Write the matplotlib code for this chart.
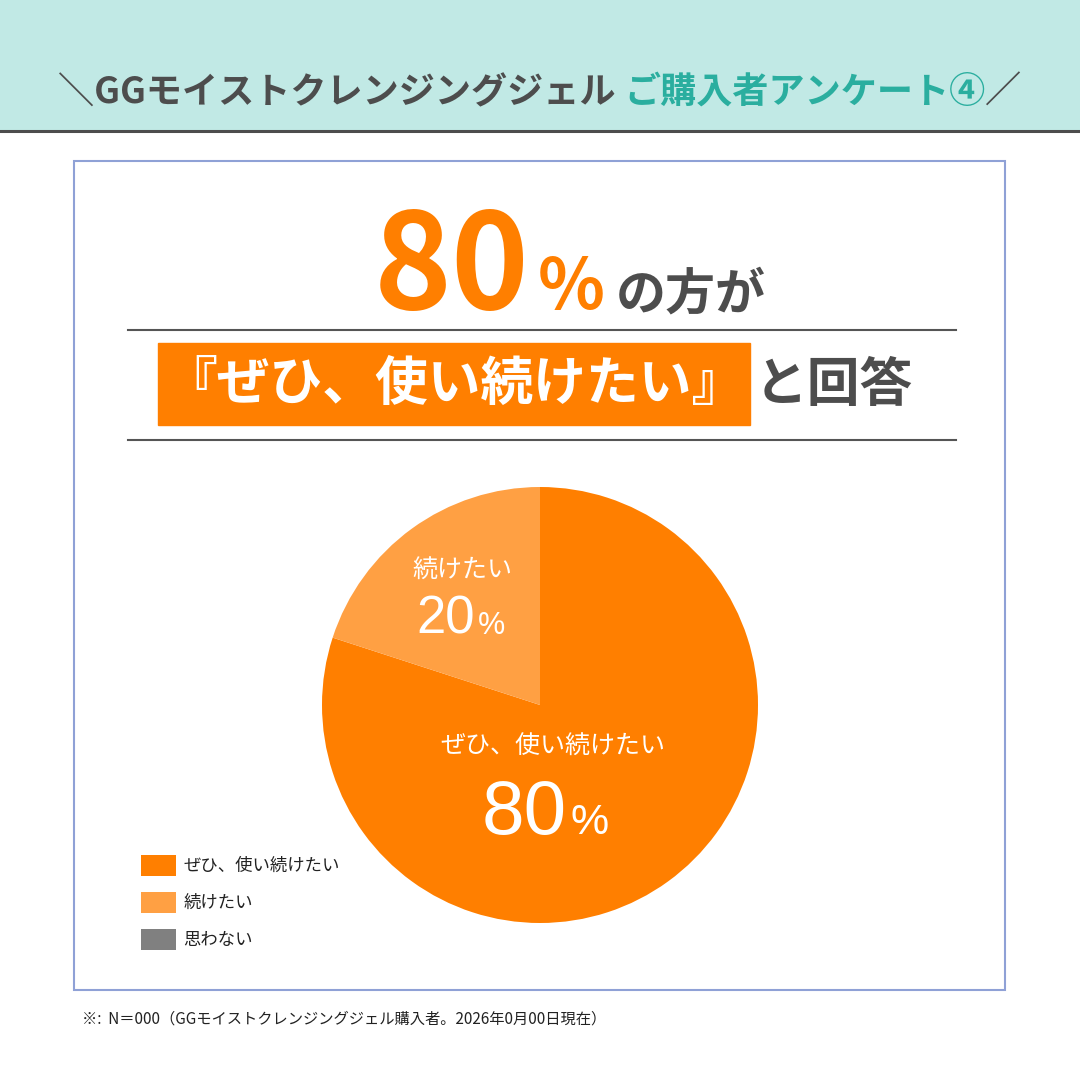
import matplotlib
matplotlib.use("Agg")
import matplotlib.pyplot as plt
from matplotlib.patches import Rectangle

plt.rcParams["font.family"] = ["Noto Sans CJK JP", "DejaVu Sans"]

# survey data
labels = ["ぜひ、使い続けたい", "続けたい", "思わない"]
shares = [80, 20, 0]
colors = ["#FF7F00", "#FFA043", "#808080"]

header_left = "＼GGモイストクレンジングジェル "
header_right = "ご購入者アンケート④"
headline_pct = "80"
answer = "『ぜひ、使い続けたい』"
note = "※:  N＝000（GGモイストクレンジングジェル購入者。2026年0月00日現在）"

DARK = "#4D4D4D"
TEAL = "#2AAE9F"
NUM_FONT = ["Liberation Sans", "DejaVu Sans"]

fig = plt.figure(figsize=(10.8, 10.8), dpi=100)
bg = fig.add_axes([0, 0, 1, 1])
bg.set_xlim(0, 1080)
bg.set_ylim(1080, 0)
bg.axis("off")

renderer = fig.canvas.get_renderer()


def text_row(ax, pieces, x, y, ha="center", family=None):
    """Draw text pieces side by side on one baseline, centred on x."""
    arts = []
    for s, size, color, weight in pieces:
        t = ax.text(0, y, s, fontsize=size, color=color, fontweight=weight,
                    va="baseline", ha="left")
        if family:
            t.set_family(family)
        arts.append(t)
    widths = [t.get_window_extent(renderer).width for t in arts]
    start = x - sum(widths) / 2 if ha == "center" else x
    for t, w in zip(arts, widths):
        t.set_x(start)
        start += w
    return arts


# header band
bg.add_patch(Rectangle((0, 0), 1080, 130, color="#C1E9E5", zorder=0))
bg.plot([0, 1080], [131, 131], color=DARK, lw=2.2)
text_row(bg, [(header_left, 26, DARK, "bold"),
              (header_right, 26, TEAL, "bold"),
              ("／", 26, DARK, "bold")], 540, 103)

# frame
bg.add_patch(Rectangle((74, 161), 931, 829, fill=False, edgecolor="#8FA1D6", lw=1.5))

# headline
text_row(bg, [(headline_pct, 95, "#FF7F00", "bold"),
              (" ", 24, "#FF7F00", "bold"),
              ("%", 50, "#FF7F00", "bold"),
              ("  ", 18, DARK, "bold"),
              ("の方が", 36, DARK, "bold")], 570, 309)

bg.plot([128, 956], [330, 330], color="#555555", lw=1.5)
bg.plot([128, 956], [440, 440], color="#555555", lw=1.5)

bg.add_patch(Rectangle((158, 343), 592, 82, color="#FF7F00", zorder=1))
bg.text(454, 384, answer, fontsize=38, color="white", fontweight="bold",
        ha="center", va="center", zorder=2)
bg.text(834, 386, "と回答", fontsize=38, color=DARK, fontweight="bold",
        ha="center", va="center")

# pie chart
cx, cy, r = 540, 705, 218
pie_ax = fig.add_axes([(cx - r) / 1080, (1080 - cy - r) / 1080, 2 * r / 1080, 2 * r / 1080])
wedges, _ = pie_ax.pie(shares, colors=colors, startangle=90, counterclock=False,
                       wedgeprops=dict(linewidth=0))
pie_ax.set_xlim(-1, 1)
pie_ax.set_ylim(-1, 1)
pie_ax.set_aspect("equal")

# overlay for slice labels (above the pie)
fg = fig.add_axes([0, 0, 1, 1])
fg.set_xlim(0, 1080)
fg.set_ylim(1080, 0)
fg.axis("off")
fg.patch.set_alpha(0)

fg.text(462, 571, labels[1], fontsize=18, color="white", ha="center", va="center")
text_row(fg, [(f"{shares[1]}", 38, "white", "normal"), (" ", 7, "white", "normal"),
              ("%", 22, "white", "normal")], 461, 634, family=NUM_FONT)
fg.text(553, 747, labels[0], fontsize=18, color="white", ha="center", va="center")
text_row(fg, [(f"{shares[0]}", 55, "white", "normal"), (" ", 10, "white", "normal"),
              ("%", 31, "white", "normal")], 545, 834, family=NUM_FONT)

# legend
leg = fig.legend(wedges, labels, loc="upper left",
                 bbox_to_anchor=(141 / 1080, 1 - 855 / 1080),
                 frameon=False, fontsize=12.5, handlelength=2.0, handleheight=1.45,
                 handletextpad=0.45, labelspacing=0.95, borderpad=0, borderaxespad=0)
for txt in leg.get_texts():
    txt.set_color("#222222")

# footnote
bg.text(82, 1024, note, fontsize=11, color="#222222", ha="left", va="baseline")

fig.savefig("out.png", dpi=100)
